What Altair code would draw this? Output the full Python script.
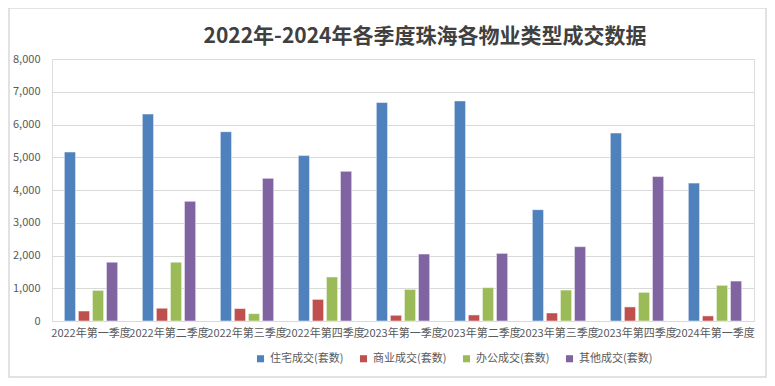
import altair as alt
import pandas as pd

quarters = ["2022年第一季度", "2022年第二季度", "2022年第三季度", "2022年第四季度",
            "2023年第一季度", "2023年第二季度", "2023年第三季度", "2023年第四季度",
            "2024年第一季度"]
series = ["住宅成交(套数)", "商业成交(套数)", "办公成交(套数)", "其他成交(套数)"]
residential = [5160, 6320, 5780, 5050, 6670, 6720, 3400, 5740, 4210]
commercial = [305, 390, 380, 660, 175, 185, 245, 430, 155]
office = [935, 1795, 225, 1345, 965, 1020, 945, 875, 1090]
other = [1795, 3655, 4355, 4570, 2045, 2065, 2270, 4410, 1220]
colors = ["#4F81BD", "#C0504D", "#9BBB59", "#8064A2"]

rows = []
for s, vals in zip(series, [residential, commercial, office, other]):
    for q, v in zip(quarters, vals):
        rows.append({"季度": q, "类型": s, "套数": v})
df = pd.DataFrame(rows)

FONT = "Noto Sans CJK SC"
W, H = 702, 262

bars = alt.Chart(df).mark_bar(stroke="white", strokeWidth=0.5).encode(
    x=alt.X("季度:N", sort=quarters, title=None,
            scale=alt.Scale(paddingInner=0.28, paddingOuter=0.14),
            axis=alt.Axis(labelAngle=0, labelLimit=200, labelOverlap=False,
                          labelFontSize=11, labelColor="#595959", labelFont=FONT,
                          ticks=False, labelPadding=6, domainColor="#d9d9d9",
                          grid=False)),
    xOffset=alt.XOffset("类型:N", sort=series,
                        scale=alt.Scale(paddingInner=0.2, paddingOuter=0.1)),
    y=alt.Y("套数:Q", title=None,
            scale=alt.Scale(domain=[0, 8000]),
            axis=alt.Axis(values=list(range(0, 8001, 1000)), format=",.0f",
                          labelFontSize=11, labelColor="#595959", labelFont=FONT,
                          ticks=False, domain=False, labelPadding=12,
                          gridColor="#d9d9d9", gridWidth=1)),
    color=alt.Color("类型:N", sort=series,
                    scale=alt.Scale(domain=series, range=colors),
                    legend=alt.Legend(title=None, orient="none", direction="horizontal",
                                      legendX=203, legendY=294,
                                      symbolType="square", symbolSize=50,
                                      symbolStrokeWidth=0, labelFontSize=11,
                                      labelColor="#595959", labelFont=FONT,
                                      columnPadding=14, symbolOffset=0,
                                      labelOffset=4)),
)

border = alt.Chart(alt.Data(values=[{}])).mark_rect(
    fill="transparent", stroke="#d9d9d9", strokeWidth=1.5
).encode(
    x=alt.value(-43), x2=alt.value(W + 12),
    y=alt.value(-51), y2=alt.value(H + 56),
)

chart = alt.layer(border, bars).properties(
    width=W, height=H,
    title=alt.TitleParams("2022年-2024年各季度珠海各物业类型成交数据",
                          font=FONT, fontSize=21, fontWeight="bold",
                          color="#404040", anchor="middle", dx=22, offset=-40),
    autosize=alt.AutoSizeParams(type="none"),
    padding={"left": 44, "top": 51, "right": 13, "bottom": 57},
).configure_view(stroke=None).configure(background="white")

chart.save("out.html", embed_options={"renderer": "svg", "actions": False})
